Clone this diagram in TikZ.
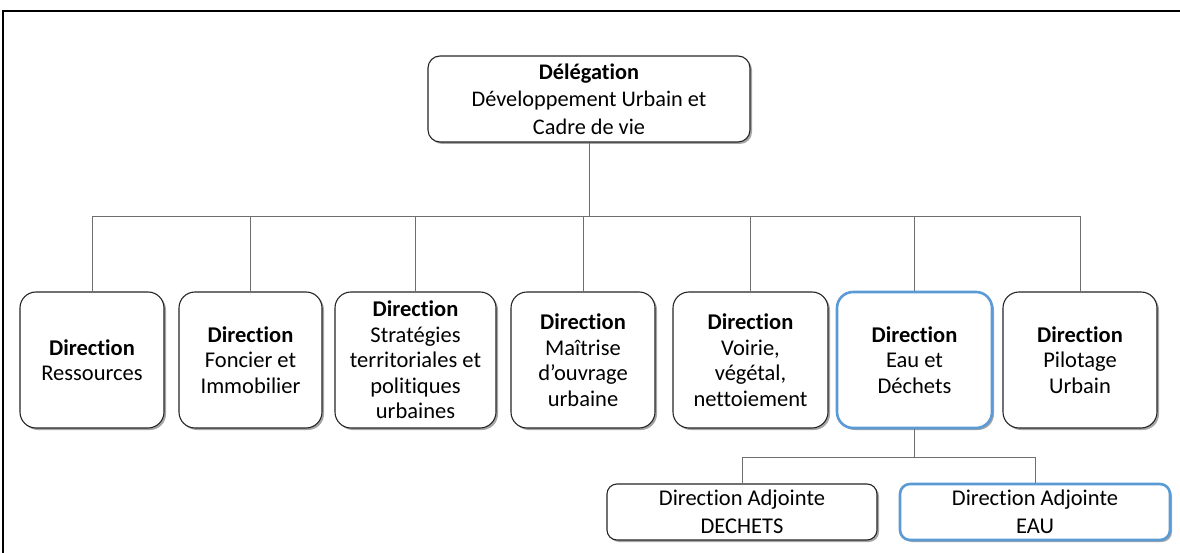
\documentclass[tikz,border=0pt]{standalone}
\usepackage{fontspec}
\setmainfont{Carlito}[Ligatures={NoCommon}]
\usetikzlibrary{shadows}
\definecolor{boxblue}{RGB}{91,155,213}
\definecolor{linegray}{RGB}{110,110,110}
\begin{document}
\begin{tikzpicture}[x=1pt,y=-1pt,
  box/.style={draw=black!85, line width=1.1pt, fill=white, rounded corners=16pt,
    align=center, inner sep=2pt, font=\fontsize{22.5}{25.5}\selectfont,
    drop shadow={shadow xshift=2pt, shadow yshift=-2pt, opacity=0.35, fill=black}},
  topbox/.style={box, rounded corners=12pt, font=\fontsize{22.3}{27.5}\selectfont},
  subbox/.style={box, rounded corners=10pt, font=\fontsize{22.5}{28}\selectfont},
  blue/.style={draw=boxblue, line width=2.6pt},
  conn/.style={draw=linegray, line width=0.9pt}]
\useasboundingbox (0,0) rectangle (1180,553);
\fill[white] (0,0) rectangle (1180,553);
% frame
\draw[line width=2pt, black] (3,560) -- (3,11) -- (1190,11);

\node[topbox, minimum width=322pt, minimum height=86pt] (top) at (589,99)
  {\textbf{Délégation}\\Développement Urbain et\\Cadre de vie};

\node[box, minimum width=144pt, minimum height=136pt] (d1) at (92,360)
  {\textbf{Direction}\\Ressources};
\node[box, minimum width=143pt, minimum height=136pt] (d2) at (250.5,360)
  {\textbf{Direction}\\Foncier et\\Immobilier};
\node[box, minimum width=161pt, minimum height=136pt] (d3) at (415.5,360)
  {\textbf{Direction}\\Stratégies\\territoriales et\\politiques\\urbaines};
\node[box, minimum width=144pt, minimum height=136pt] (d4) at (583,360)
  {\textbf{Direction}\\Maîtrise\\d’ouvrage\\urbaine};
\node[box, minimum width=155pt, minimum height=136pt] (d5) at (750.5,360)
  {\textbf{Direction}\\Voirie,\\végétal,\\nettoiement};
\node[box, blue, minimum width=155pt, minimum height=136pt] (d6) at (914.5,360)
  {\textbf{Direction}\\Eau et\\Déchets};
\node[box, minimum width=154pt, minimum height=136pt] (d7) at (1080,360)
  {\textbf{Direction}\\Pilotage\\Urbain};

\node[subbox, minimum width=270pt, minimum height=56pt] (sa) at (742,512)
  {Direction Adjointe\\DECHETS};
\node[subbox, blue, minimum width=270pt, minimum height=56pt] (sb) at (1035,512)
  {Direction Adjointe\\EAU};

\coordinate (bus) at (589,216);
\coordinate (bus2) at (914.5,457);
\draw[conn] (top.south) -- (bus);
\foreach \n in {d1,d2,d3,d4,d5,d6,d7} \draw[conn] (\n.north) |- (bus);
\draw[conn] (d6.south) -- (bus2);
\draw[conn] (sa.north) |- (bus2);
\draw[conn] (sb.north) |- (bus2);
\end{tikzpicture}
\end{document}
